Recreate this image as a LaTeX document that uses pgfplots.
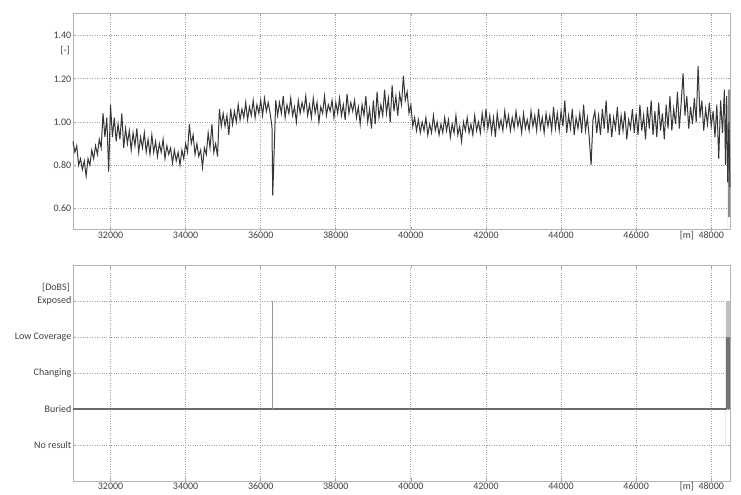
\documentclass[border=0pt]{standalone}
\usepackage{pgfplots}
\pgfplotsset{compat=1.18}
\usepackage{pgfplotstable}
\usepackage{fontspec}
\setmainfont{Carlito}
\definecolor{txt}{HTML}{404040}
\definecolor{frame}{HTML}{B4B4B4}
\definecolor{gridc}{HTML}{A0A0A0}
\definecolor{sig}{HTML}{363636}

\pgfplotstableread{
x y
31000 0.91
31050 0.86
31100 0.89
31150 0.80
31200 0.83
31250 0.78
31300 0.82
31350 0.75
31400 0.83
31450 0.80
31500 0.87
31550 0.83
31600 0.89
31650 0.85
31700 0.92
31750 0.88
31800 1.04
31850 0.93
31900 1.02
31950 0.77
32000 1.08
32050 0.93
32100 1.02
32150 0.91
32200 0.99
32250 0.92
32300 1.04
32350 0.88
32400 0.97
32450 0.90
32500 0.96
32550 0.87
32600 0.95
32650 0.89
32700 0.97
32750 0.86
32800 0.93
32850 0.88
32900 0.95
32950 0.86
33000 0.92
33050 0.85
33100 0.94
33150 0.86
33200 0.91
33250 0.84
33300 0.90
33350 0.86
33400 0.92
33450 0.83
33500 0.89
33550 0.85
33600 0.88
33650 0.81
33700 0.87
33750 0.82
33800 0.86
33850 0.80
33900 0.87
33950 0.83
34000 0.90
34050 0.86
34100 0.99
34150 0.90
34200 0.94
34250 0.85
34300 0.90
34350 0.84
34400 0.87
34450 0.79
34500 0.88
34550 0.85
34600 0.95
34650 0.88
34700 0.99
34750 0.86
34800 0.90
34850 0.84
34900 1.06
34950 0.98
35000 1.04
35050 0.98
35100 1.03
35150 0.94
35200 1.06
35250 0.99
35300 1.05
35350 1.00
35400 1.08
35450 1.01
35500 1.06
35550 1.02
35600 1.09
35650 1.01
35700 1.07
35750 1.03
35800 1.10
35850 1.02
35900 1.08
35950 1.04
36000 1.10
36050 1.03
36100 1.11
36150 1.05
36200 1.09
36250 1.04
36300 0.98
36320 0.66
36350 0.82
36400 1.10
36450 1.03
36500 1.09
36550 1.04
36600 1.12
36650 1.02
36700 1.08
36750 1.04
36800 1.11
36850 1.03
36900 1.07
36950 1.00
37000 1.10
37050 1.04
37100 1.09
37150 1.05
37200 1.12
37250 1.03
37300 1.08
37350 1.02
37400 1.11
37450 1.04
37500 1.09
37550 1.00
37600 1.07
37650 1.04
37700 1.12
37750 1.03
37800 1.08
37850 1.05
37900 1.10
37950 1.02
38000 1.09
38050 1.04
38100 1.11
38150 1.03
38200 1.08
38250 1.01
38300 1.13
38350 1.04
38400 1.09
38450 1.05
38500 1.10
38550 1.02
38600 1.07
38650 0.99
38700 1.08
38750 1.03
38800 1.12
38850 1.00
38900 1.06
38950 0.97
39000 1.10
39050 0.99
39100 1.14
39150 1.02
39200 1.08
39250 1.03
39300 1.15
39350 1.04
39400 1.11
39450 1.00
39500 1.17
39550 1.05
39600 1.12
39650 1.03
39700 1.13
39750 1.08
39800 1.215
39850 1.10
39900 1.14
39950 1.04
40000 1.08
40050 0.98
40100 1.02
40150 0.96
40200 1.01
40250 0.95
40300 1.00
40350 0.96
40400 1.02
40450 0.94
40500 0.99
40550 0.95
40600 1.03
40650 0.96
40700 1.00
40750 0.94
40800 0.99
40850 0.95
40900 1.02
40950 0.96
41000 1.01
41050 0.93
41100 0.99
41150 0.95
41200 1.03
41250 0.94
41300 0.98
41350 0.91
41400 1.00
41450 0.96
41500 1.02
41550 0.95
41600 0.99
41650 0.94
41700 1.03
41750 0.96
41800 1.00
41850 0.95
41900 1.04
41950 0.97
42000 1.06
42050 0.97
42100 1.03
42150 0.95
42200 1.02
42250 0.93
42300 1.04
42350 0.97
42400 1.01
42450 0.96
42500 1.05
42550 0.98
42600 1.03
42650 0.96
42700 1.02
42750 0.97
42800 1.05
42850 0.98
42900 1.02
42950 0.95
43000 1.04
43050 0.97
43100 1.01
43150 0.96
43200 1.05
43250 0.98
43300 1.03
43350 0.96
43400 1.06
43450 0.97
43500 1.02
43550 0.95
43600 1.04
43650 0.98
43700 1.03
43750 0.96
43800 1.07
43850 0.97
43900 1.04
43950 0.96
44000 1.05
44050 0.98
44100 1.10
44150 0.95
44200 1.03
44250 0.97
44300 1.06
44350 0.94
44400 1.02
44450 0.97
44500 1.04
44550 0.95
44600 1.08
44650 0.96
44700 1.02
44750 0.93
44800 0.80
44850 1.01
44900 1.05
44950 0.95
45000 1.03
45050 0.94
45100 1.06
45150 0.97
45200 1.10
45250 0.95
45300 1.04
45350 0.93
45400 1.02
45450 0.97
45500 1.07
45550 0.94
45600 1.03
45650 0.96
45700 1.05
45750 0.92
45800 1.01
45850 0.97
45900 1.06
45950 0.95
46000 1.04
46050 0.94
46100 1.08
46150 0.96
46200 1.03
46250 0.92
46300 1.07
46350 0.97
46400 1.10
46450 0.94
46500 1.05
46550 0.93
46600 1.09
46650 0.96
46700 1.04
46750 0.92
46800 1.08
46850 0.97
46900 1.12
46950 0.96
47000 1.06
47050 0.99
47100 1.14
47150 0.97
47200 1.09
47250 1.225
47300 1.03
47350 1.12
47400 0.97
47450 1.07
47500 0.99
47550 1.11
47600 1.00
47650 1.26
47700 1.02
47750 1.10
47800 0.96
47850 1.06
47900 0.99
47950 1.09
48000 0.98
48050 1.05
48100 0.93
48150 1.08
48200 0.83
48250 1.10
48300 0.95
48350 1.15
48380 0.80
48410 1.12
48440 0.72
48470 1.00
48500 0.70
}\signal

\pgfplotsset{
  common/.style={
    scale only axis,
    width=657bp,
    xmin=31000, xmax=48500,
    xtick={32000,34000,36000,38000,40000,42000,44000,46000,48000},
    xticklabels={32000,34000,36000,38000,40000,42000,44000,46000,{\llap{[m]\ \ }48000}},
    scaled x ticks=false,
    grid=major,
    major grid style={dotted, gridc, line width=0.8bp},
    axis line style={frame, line width=1bp},
    tick style={gridc, line width=0.7bp},
    major tick length=2.5bp,
    tick align=inside,
    tick label style={font=\fontsize{10bp}{11bp}\selectfont, text=txt, inner sep=1.5bp},
    /pgf/number format/assume math mode=true,
    clip=false,
  }
}

\begin{document}
\begin{tikzpicture}[x=1bp,y=1bp]
\begin{axis}[common,
  at={(73bp,265bp)}, anchor=south west,
  height=216bp,
  ymin=0.5, ymax=1.5,
  ytick={0.6,0.8,1.0,1.2,1.4},
  yticklabel style={/pgf/number format/fixed, /pgf/number format/fixed zerofill, /pgf/number format/precision=2},
]
\addplot[draw=none, fill=black!45] coordinates {(48440,0.56) (48500,0.56) (48500,1.15) (48440,1.15)} \closedcycle;
\addplot[sig, line width=1bp] table[x=x, y=y] {\signal};
\node[anchor=east, text=txt, font=\fontsize{10bp}{11bp}\selectfont, inner sep=1.5bp] at (axis cs:30960,1.33) {[-]};
\end{axis}

\begin{axis}[common,
  at={(73bp,14bp)}, anchor=south west,
  height=216bp,
  ymin=-1, ymax=5,
  ytick={0,1,2,3,4},
  yticklabels={No result, Buried, Changing, Low Coverage, Exposed},
]
\addplot[draw=none, fill=black!55] coordinates {(48390,1) (48500,1) (48500,3) (48390,3)} \closedcycle;
\addplot[draw=none, fill=black!25] coordinates {(48390,3) (48500,3) (48500,4) (48390,4)} \closedcycle;
\addplot[black!58, line width=2bp] coordinates {(31000,1) (48420,1)};
\addplot[black!40, line width=0.8bp] coordinates {(36300,1) (36300,4)};
\node[anchor=east, text=txt, font=\fontsize{10bp}{11bp}\selectfont, inner sep=1.5bp] at (axis cs:30960,4.38) {[DoBS]};
\end{axis}
\pgfresetboundingbox
\path[use as bounding box] (0,0) rectangle (741bp,495bp);
\end{tikzpicture}
\end{document}
